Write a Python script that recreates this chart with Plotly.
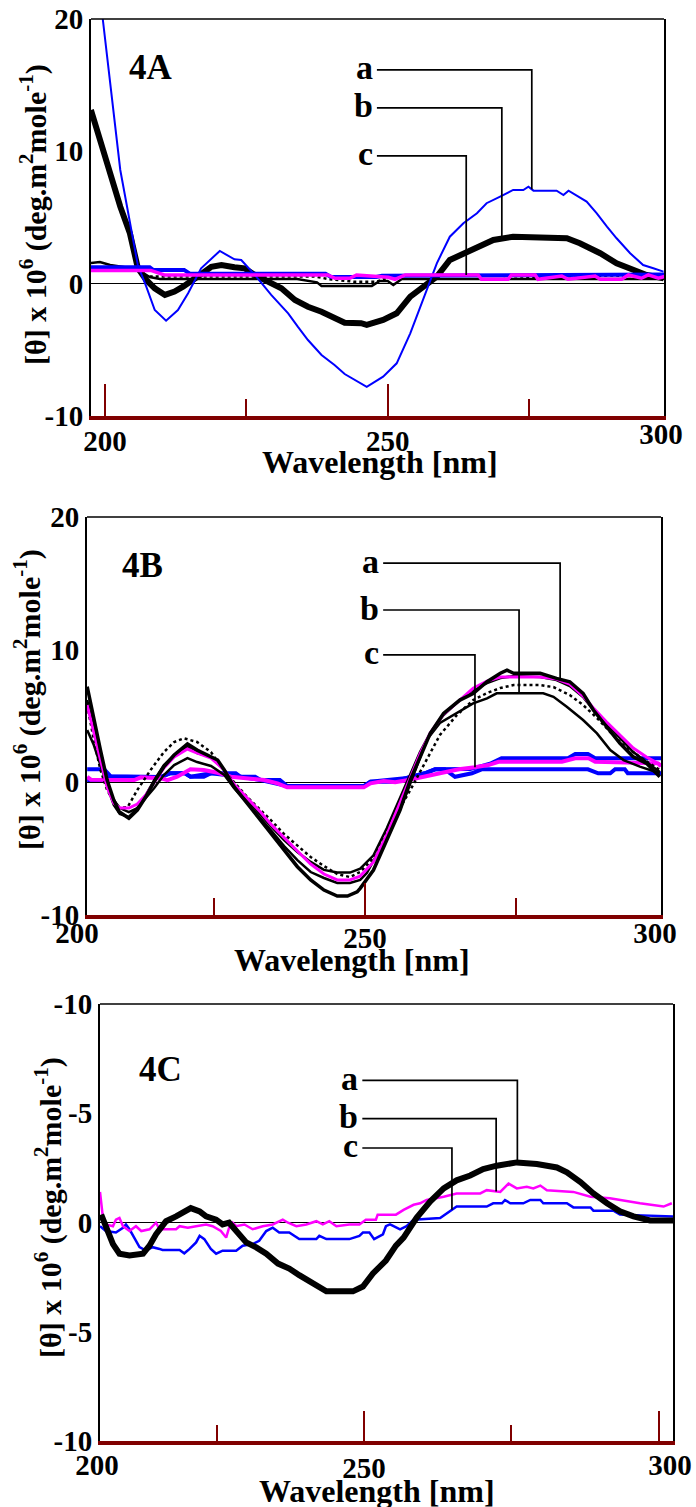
import numpy as np
import plotly.graph_objects as go

# ---------------- 4A ----------------
A_WL_BLUE = [197.5, 199.6, 202.7, 204.7, 205.8, 207.3, 208.8, 210.8, 212.9, 214.7,
             217.0, 220.3, 222.9, 224.1, 226.5, 229.4, 232.4, 234.1, 235.9, 238.3,
             240.6, 242.4, 244.2, 246.3, 249.2, 251.6, 254.0, 256.3, 258.7, 261.0,
             263.4, 265.8, 267.5, 269.9, 272.2, 274.0, 274.9, 275.8, 279.9, 281.1,
             282.0, 285.2, 287.0, 288.8, 290.5, 292.9, 295.2, 297.0, 298.8]
A_TH_BLUE = [28.1, 20.0, 8.59, 4.06, 1.41, -0.23, -1.99, -2.80, -1.99, -0.73,
             1.16, 2.47, 1.84, 1.79, 0.66, -0.85, -2.24, -3.25, -4.26, -5.39,
             -6.15, -6.83, -7.28, -7.79, -7.03, -6.02, -3.75, -1.23, 1.54, 3.55,
             4.57, 5.32, 6.08, 6.58, 7.08, 7.08, 7.33, 7.03, 7.03, 6.70,
             7.03, 6.20, 5.32, 4.31, 3.43, 2.30, 1.41, 1.16, 0.91]

A_WL_BLACK = [197.5, 199.1, 200.9, 202.7, 204.4, 205.8, 207.3, 208.8, 210.6, 212.3,
              213.8, 215.3, 216.8, 218.8, 220.6, 222.9, 224.7, 226.5, 228.8, 231.2,
              233.6, 235.9, 238.3, 240.6, 242.4, 245.3, 246.3, 249.2, 251.6, 254.0,
              256.3, 258.7, 261.0, 263.4, 265.8, 268.7, 272.2, 277.0, 281.7, 284.0,
              287.6, 290.5, 293.5, 295.8, 298.8]
A_TH_BLACK = [13.13, 10.86, 8.09, 5.82, 3.81, 1.19, 0.28, -0.35, -0.85, -0.60,
              -0.23, 0.28, 0.66, 1.28, 1.41, 1.24, 1.16, 0.66, 0.15, -0.35,
              -1.23, -1.74, -2.12, -2.62, -2.95, -2.99, -3.12, -2.74, -2.24, -0.98,
              -0.23, 0.53, 1.79, 2.30, 2.80, 3.30, 3.55, 3.51, 3.43, 3.05,
              2.30, 1.54, 1.04, 0.66, 0.41]

A_WL_BLACKFLAT = [197.5, 199.1, 200.9, 204.4, 206.7, 207.9, 209.7, 234.0, 237.5, 238.3,
                  247.2, 248.6, 250.0, 251.0, 252.5, 298.9]
A_TH_BLACKFLAT = [1.56, 1.64, 1.41, 1.19, 0.81, 0.50, 0.36, 0.36, 0.10, -0.17,
                  -0.17, 0.20, 0.20, -0.10, 0.36, 0.36]

A_WL_DOT = [207.9, 230.0, 237.0, 239.5, 244.0, 248.0, 251.0, 262.0, 270.0, 276.0, 290.0, 298.9]
A_TH_DOT = [0.55, 0.55, 0.55, 0.35, 0.15, 0.15, 0.60, 0.60, 0.60, 0.50, 0.62, 0.50]

A_WL_BLUEFLAT = [197.5, 207.9, 208.5, 214.0, 215.0, 239.0, 240.0, 248.0, 249.0, 299.0]
A_TH_BLUEFLAT = [1.24, 1.24, 1.04, 1.04, 0.75, 0.75, 0.50, 0.50, 0.60, 0.70]

A_WL_MAGFLAT = [197.5, 208.1, 210.5, 239.4, 240.7, 243.3, 244.5, 250.1, 251.3, 253.1,
                266.0, 266.6, 271.3, 271.9, 276.1, 276.6, 280.8, 281.9, 286.7, 287.6,
                291.4, 292.6, 294.9, 296.1, 297.9, 299.0]
A_TH_MAGFLAT = [1.0, 1.0, 0.66, 0.66, 0.41, 0.41, 0.66, 0.48, 0.33, 0.66,
                0.66, 0.33, 0.33, 0.66, 0.66, 0.33, 0.58, 0.33, 0.58, 0.33,
                0.33, 0.66, 0.41, 0.66, 0.41, 0.55]

# ---------------- 4B ----------------
B_WL_1 = [204.0, 205.1, 206.2, 207.3, 208.4, 209.3, 210.9, 212.3, 213.7, 215.1,
          216.7, 218.4, 220.6, 222.2, 224.5, 225.6, 226.7, 228.3, 230.5, 232.7,
          234.4, 236.6, 238.8, 241.0, 243.2, 245.4, 247.1, 248.7, 249.2, 251.4,
          253.6, 255.8, 257.5, 259.1, 260.8, 263.0, 265.7, 267.9, 270.2, 272.4,
          273.5, 274.6, 279.0, 281.7, 283.9, 286.1, 287.8, 290.0, 292.2, 294.4,
          296.6, 298.8]
B_TH_1 = [7.21, 4.70, 2.43, 0.17, -1.33, -2.22, -2.71, -2.09, -1.09, 0.05,
          1.18, 2.06, 2.89, 2.43, 1.93, 1.68, 0.93, -0.33, -1.58, -2.84,
          -3.84, -5.10, -6.36, -7.36, -8.12, -8.57, -8.57, -8.25, -7.99, -6.61,
          -4.35, -2.09, 0.17, 1.93, 3.69, 5.20, 6.20, 6.70, 7.58, 8.22,
          8.46, 8.22, 8.22, 7.84, 7.58, 6.70, 5.45, 4.19, 2.94, 1.93,
          1.43, 0.42]

B_WL_2 = [204.0, 205.1, 206.2, 207.3, 208.4, 209.4, 210.9, 212.3, 213.7, 215.1,
          216.7, 218.4, 220.6, 222.2, 224.5, 226.7, 228.3, 230.5, 232.7, 234.4,
          236.6, 238.8, 241.0, 243.2, 245.4, 247.5, 249.2, 250.3, 253.0, 255.3,
          256.9, 258.6, 260.2, 262.4, 265.2, 267.9, 270.2, 271.8, 279.5, 281.2,
          283.4, 286.1, 288.4, 290.6, 292.8, 295.5, 298.8]
B_TH_2 = [3.94, 2.81, 1.30, -0.20, -1.33, -1.94, -2.24, -1.94, -1.18, -0.43,
          0.55, 1.30, 1.83, 1.53, 1.23, 0.55, -0.43, -1.56, -2.69, -3.60,
          -4.80, -5.86, -6.76, -7.21, -7.59, -7.59, -7.36, -6.83, -4.58, -2.59,
          -0.81, 1.18, 3.19, 4.47, 5.20, 5.95, 6.33, 6.71, 6.71, 6.45,
          5.70, 4.70, 3.69, 2.43, 1.68, 1.18, 0.68]

B_WL_3 = [204.0, 205.1, 206.2, 207.3, 208.4, 209.4, 210.9, 212.3, 213.7, 215.1,
          216.7, 218.4, 220.6, 222.2, 224.5, 226.7, 228.3, 230.5, 232.7, 234.4,
          236.6, 238.8, 241.0, 243.2, 245.4, 247.5, 249.2, 251.4, 253.6, 255.8,
          257.5, 259.1, 260.8, 263.0, 265.7, 267.9, 270.2, 272.4, 274.6, 279.0,
          281.7, 283.9, 286.1, 287.8, 290.0, 292.2, 294.4, 296.6, 298.8]
B_TH_3 = [6.20, 4.09, 1.83, -0.28, -1.71, -2.39, -2.61, -1.94, -0.96, 0.17,
          1.30, 2.06, 2.66, 2.21, 1.91, 0.93, -0.20, -1.33, -2.39, -3.30,
          -4.35, -5.26, -6.00, -6.60, -6.80, -6.80, -6.50, -5.50, -3.46, -1.19,
          0.55, 2.28, 3.72, 5.07, 6.20, 6.96, 7.48, 7.86, 8.01, 7.94,
          7.71, 7.26, 6.43, 5.45, 4.40, 3.34, 2.28, 1.53, 0.78]

B_WL_MAG = [204.0, 205.1, 206.2, 207.3, 208.4, 209.4, 210.9, 212.3, 213.7, 215.1,
            216.7, 218.4, 220.6, 221.7, 224.5, 226.7, 228.3, 230.5, 232.7, 234.4,
            236.6, 238.8, 241.0, 243.2, 245.4, 247.5, 249.2, 251.4, 253.6, 255.8,
            257.5, 259.1, 260.8, 263.0, 265.7, 267.9, 270.2, 272.4, 274.6, 279.0,
            281.7, 283.9, 286.1, 287.8, 290.0, 292.2, 294.4, 296.6, 299.0]
B_TH_MAG = [5.83, 3.79, 1.68, -0.35, -1.56, -1.94, -1.94, -1.64, -0.96, -0.05,
            1.08, 1.91, 2.51, 2.30, 1.83, 0.93, -0.13, -1.18, -2.24, -3.15,
            -4.20, -5.18, -6.16, -6.91, -7.36, -7.36, -7.07, -6.00, -3.97, -1.56,
            0.32, 2.13, 3.72, 5.15, 6.20, 7.10, 7.63, 7.94, 7.94, 7.94,
            7.79, 7.41, 6.50, 5.60, 4.55, 3.57, 2.59, 1.91, 1.30]

B_WL_DOT = [204.0, 205.1, 206.2, 207.3, 209.0, 210.7, 212.3, 214.5, 216.7, 218.4,
            220.0, 222.2, 224.5, 226.0, 228.3, 230.5, 232.7, 234.4, 236.6, 238.8,
            241.0, 243.2, 245.4, 247.5, 249.2, 251.4, 253.6, 255.8, 257.5, 259.1,
            260.2, 262.4, 265.2, 267.9, 270.2, 272.4, 274.6, 279.0, 281.2, 283.9,
            286.1, 288.4, 290.6, 292.8, 295.5, 298.8]
B_TH_DOT = [5.83, 3.19, 0.93, -0.58, -1.94, -1.86, -0.58, 0.93, 2.28, 3.04,
            3.32, 3.04, 2.28, 1.30, 0.02, -1.11, -2.09, -2.84, -3.90, -4.80,
            -5.63, -6.31, -6.91, -7.14, -6.76, -5.70, -3.80, -1.92, -0.58, 0.78,
            1.68, 3.57, 5.07, 6.20, 6.73, 7.11, 7.33, 7.33, 7.18, 6.58,
            5.83, 4.85, 3.79, 2.81, 1.91, 0.93]

B_WL_BLUE_UP = [204.0, 206.8, 207.9, 216.1, 217.7, 220.2, 221.1, 223.3, 224.5, 228.6,
                229.4, 231.8, 232.7, 235.9, 237.1, 249.8, 250.9, 255.0, 256.6, 259.9,
                261.6, 267.4, 270.7, 272.6, 283.6, 284.8, 286.9, 288.1, 299.0]
B_TH_BLUE_UP = [0.98, 0.98, 0.45, 0.40, 0.68, 0.68, 0.42, 0.42, 0.68, 0.68,
                0.42, 0.42, 0.17, 0.17, -0.28, -0.28, 0.05, 0.05, 0.30, 0.68,
                0.98, 1.00, 1.40, 1.81, 1.81, 2.13, 2.13, 1.81, 1.81]

B_WL_BLUE_LOW = [204.0, 206.8, 207.9, 216.1, 217.7, 220.2, 221.1, 224.5, 229.4, 232.7,
                 237.1, 249.8, 250.9, 256.6, 259.9, 261.6, 263.2, 264.9, 267.7, 269.3,
                 286.9, 288.6, 290.6, 291.4, 293.0, 293.5, 299.0]
B_TH_BLUE_LOW = [0.17, 0.17, 0.42, 0.38, 0.68, 0.68, 0.42, 0.68, 0.42, 0.17,
                 -0.28, -0.28, 0.05, 0.30, 0.68, 0.98, 0.98, 0.42, 0.68, 0.98,
                 0.98, 0.68, 0.68, 0.98, 0.98, 0.68, 0.68]

B_WL_MAGFLAT = [204.0, 204.6, 211.8, 212.9, 216.2, 217.3, 218.9, 221.1, 223.3, 225.6,
                227.8, 233.3, 235.5, 237.1, 249.8, 250.9, 253.1, 255.0, 257.2, 259.9,
                262.7, 265.5, 268.2, 270.4, 272.1, 282.6, 284.8, 287.0, 288.1, 298.5,
                299.0]
B_TH_MAGFLAT = [0.42, 0.20, 0.17, 0.38, 0.30, 0.17, 0.42, 0.98, 0.93, 0.72,
                0.42, 0.17, -0.08, -0.38, -0.38, -0.08, 0.10, 0.00, 0.17, 0.42,
                0.68, 0.98, 1.13, 1.30, 1.55, 1.55, 1.81, 1.81, 1.55, 1.43,
                1.20]

# ---------------- 4C ----------------
C_WL_BLACK = [205.4, 206.2, 207.4, 208.5, 210.2, 212.5, 213.6, 214.7, 216.4, 218.1,
              219.8, 220.6, 222.1, 223.2, 224.9, 226.0, 227.1, 228.3, 230.0, 231.7,
              233.4, 235.4, 237.3, 239.0, 241.3, 243.6, 245.8, 248.1, 249.8, 251.5,
              253.7, 254.4, 255.4, 256.7, 258.9, 261.2, 263.5, 265.7, 268.0, 270.2,
              272.5, 275.9, 279.3, 282.7, 284.4, 286.7, 288.9, 291.2, 293.4, 295.7,
              298.5, 302.4]
C_TH_BLACK = [0.36, -0.24, -0.99, -1.43, -1.51, -1.43, -1.06, -0.54, 0.06, 0.28,
              0.51, 0.66, 0.51, 0.28, 0.13, -0.09, -0.01, -0.39, -0.91, -1.14,
              -1.43, -1.88, -2.11, -2.41, -2.78, -3.15, -3.15, -3.15, -2.93, -2.33,
              -1.74, -1.43, -1.06, -0.69, 0.21, 0.96, 1.56, 1.93, 2.15, 2.45,
              2.60, 2.75, 2.68, 2.52, 2.30, 1.85, 1.33, 0.88, 0.51, 0.28,
              0.09, 0.09]

C_WL_MAG = [205.2, 205.7, 206.2, 207.4, 207.9, 208.5, 209.1, 210.2, 211.3, 212.2,
            213.6, 214.7, 215.3, 218.1, 218.7, 220.1, 221.5, 223.2, 224.3, 225.7,
            226.6, 227.1, 227.7, 228.3, 229.7, 231.1, 232.8, 234.5, 236.2, 237.1,
            238.5, 240.2, 241.9, 243.0, 244.1, 245.3, 247.5, 249.2, 250.3, 252.0,
            252.3, 255.4, 256.7, 258.4, 259.5, 260.6, 263.5, 265.7, 269.7, 270.8,
            273.1, 274.5, 275.9, 277.6, 278.7, 279.9, 281.0, 285.5, 288.4, 291.7,
            296.8, 300.8, 302.2]
C_TH_MAG = [1.40, 0.21, -0.09, -0.17, 0.13, 0.21, -0.17, -0.39, -0.17, -0.39,
            -0.31, -0.01, -0.31, -0.31, -0.17, -0.24, -0.17, -0.09, -0.17, -0.39,
            -0.69, -0.24, -0.01, -0.17, -0.09, -0.31, -0.17, -0.09, 0.13, -0.01,
            -0.17, -0.09, 0.06, -0.09, 0.06, -0.17, -0.09, -0.09, 0.13, 0.13,
            0.36, 0.36, 0.58, 0.81, 0.88, 1.03, 1.18, 1.33, 1.33, 1.48,
            1.40, 1.78, 1.56, 1.63, 1.56, 1.69, 1.48, 1.40, 1.18, 1.11,
            0.88, 0.73, 0.88]

C_WL_BLUE = [205.2, 206.2, 207.9, 209.1, 209.6, 210.2, 211.0, 211.9, 213.0, 214.1,
             215.3, 215.8, 218.7, 219.5, 220.4, 221.5, 222.1, 222.9, 224.0, 224.9,
             226.0, 228.3, 229.4, 231.1, 232.2, 233.4, 234.5, 235.6, 237.3, 239.0,
             241.9, 242.4, 243.6, 247.5, 249.2, 249.8, 250.9, 251.7, 253.2, 253.7,
             254.4, 256.1, 257.2, 258.4, 262.9, 264.0, 265.7, 270.8, 271.9, 273.4,
             273.9, 274.8, 277.0, 278.2, 279.9, 280.4, 284.4, 285.5, 288.4, 288.9,
             292.3, 293.4, 301.4, 302.4]
C_TH_BLUE = [-0.17, -0.39, -0.46, -0.24, -0.09, -0.31, -0.69, -1.13, -1.29, -1.13,
             -1.21, -1.26, -1.26, -1.41, -1.21, -0.91, -0.61, -0.76, -1.21, -1.43,
             -1.29, -1.29, -1.06, -0.99, -0.84, -0.39, -0.24, -0.46, -0.46, -0.76,
             -0.76, -0.61, -0.76, -0.76, -0.61, -0.46, -0.46, -0.76, -0.54, -0.17,
             -0.09, -0.31, -0.17, 0.13, 0.21, 0.43, 0.73, 0.73, 0.88, 0.88,
             1.03, 0.88, 0.88, 1.03, 1.03, 0.88, 0.88, 0.69, 0.69, 0.54,
             0.54, 0.36, 0.28, 0.28]

# Tick labels
AB_Y_TICK_TEXT = ["-10", "0", "10", "20"]
C_Y_TICK_TEXT = ["-10", "-5", "0", "-5", "-10"]

# ------------------------------------------------------------------
W, H = 696, 1507
SERIF = "Liberation Serif"
MAROON = "#800000"
BLUE = "#0000ff"
MAGENTA = "#ff00ff"


def fx(p):
    return p / W


def fy(p):
    return 1 - p / H


def bold(size):
    return dict(family=SERIF, size=size, color="black", weight="bold")


fig = go.Figure()

# frame boxes in pixels: left, top, right, bottom
panels = {
    "A": dict(ax="", box=(91, 19, 664, 416), xr=[197.52, 298.89], yr=[-10, 20],
              ytv=[-10, 0, 10, 20], ytt=AB_Y_TICK_TEXT,
              xtv=[200, 250], xtt=["200", "250"], minor=[225, 275],
              majlen=32, minlen=17, shift=-4,
              lab_dom=(106, 661), lab_tv=[300], lab_tt=["300"], lab_shift=-2),
    "B": dict(ax="2", box=(87, 517, 661, 915), xr=[203.97, 299.0], yr=[-10, 20],
              ytv=[-10, 0, 10, 20], ytt=AB_Y_TICK_TEXT,
              xtv=[250], xtt=["250"], minor=[225, 275],
              majlen=32, minlen=17, shift=-6,
              lab_dom=(77, 655), lab_tv=[200, 300], lab_tt=["200", "300"], lab_shift=-2),
    "C": dict(ax="3", box=(100, 1004, 673, 1441), xr=[205.2, 302.4], yr=[-10, 10],
              ytv=[-10, -5, 0, 5, 10], ytt=C_Y_TICK_TEXT,
              xtv=[250, 300], xtt=["250", ""], minor=[225, 275],
              majlen=30, minlen=16, shift=-2,
              lab_dom=(97, 670), lab_tv=[200, 300], lab_tt=["200", "300"], lab_shift=4),
}
label_axis_id = {"A": "4", "B": "5", "C": "6"}

layout_axes = {}
shapes = []
for key, p in panels.items():
    a = p["ax"]
    l, t, r, b = p["box"]
    xid = "x" + a
    yid = "y" + a
    layout_axes["xaxis" + a] = dict(
        domain=[fx(l), fx(r)], range=p["xr"], anchor=yid, automargin=False,
        showline=True, linecolor=MAROON, linewidth=4,
        ticks="inside", ticklen=p["majlen"], tickwidth=2, tickcolor=MAROON,
        tickmode="array", tickvals=p["xtv"], ticktext=p["xtt"],
        tickfont=bold(29), ticklabelstandoff=p["shift"],
        showgrid=False, zeroline=False,
        minor=dict(ticks="inside", ticklen=p["minlen"], tickwidth=2,
                   tickcolor=MAROON, tickvals=p["minor"], showgrid=False),
    )
    layout_axes["yaxis" + a] = dict(
        domain=[fy(b), fy(t)], range=p["yr"], anchor=xid, automargin=False,
        showline=True, linecolor="black", linewidth=2, mirror=True,
        ticks="", tickmode="array", tickvals=p["ytv"], ticktext=p["ytt"],
        tickfont=bold(29), showgrid=False,
        zeroline=True, zerolinecolor="black", zerolinewidth=1,
    )

    # separate axis carrying the end labels of the wavelength scale
    n = label_axis_id[key]
    layout_axes["xaxis" + n] = dict(
        domain=[fx(p["lab_dom"][0]), fx(p["lab_dom"][1])], range=[200, 300],
        anchor="y" + n, automargin=False, showline=False, ticks="",
        tickmode="array", tickvals=p["lab_tv"], ticktext=p["lab_tt"],
        tickfont=bold(29), ticklabelstandoff=p["lab_shift"],
        showgrid=False, zeroline=False, fixedrange=True,
    )
    layout_axes["yaxis" + n] = dict(
        domain=[fy(b), fy(b) + 0.01], range=[0, 1], showticklabels=False,
        showline=False, ticks="", anchor="x" + n, automargin=False,
        showgrid=False, zeroline=False, fixedrange=True,
    )
    # empty trace so the label axis gets its own subplot
    fig.add_trace(go.Scatter(x=[None], y=[None], xaxis="x" + n, yaxis="y" + n,
                             mode="lines", hoverinfo="skip", showlegend=False))
    # top border of the frame
    shapes.append(dict(type="line", xref=xid + " domain", yref=yid + " domain",
                       x0=0, x1=1, y0=1, y1=1, line=dict(color="black", width=1.5)))


def add(wl, th, ax, color, width, dash="solid"):
    fig.add_trace(go.Scatter(
        x=wl, y=th, mode="lines", xaxis="x" + ax, yaxis="y" + ax,
        line=dict(color=color, width=width, dash=dash),
        hoverinfo="skip", showlegend=False,
    ))


# 4A
add(A_WL_BLACK, A_TH_BLACK, "", "black", 6)
add(A_WL_BLACKFLAT, A_TH_BLACKFLAT, "", "black", 2.5)
add(A_WL_DOT, A_TH_DOT, "", "black", 2.5, "dot")
add(A_WL_BLUEFLAT, A_TH_BLUEFLAT, "", BLUE, 4)
add(A_WL_BLUE, A_TH_BLUE, "", BLUE, 2)
add(A_WL_MAGFLAT, A_TH_MAGFLAT, "", MAGENTA, 3.5)

# 4B
add(B_WL_BLUE_LOW, B_TH_BLUE_LOW, "2", BLUE, 4)
add(B_WL_BLUE_UP, B_TH_BLUE_UP, "2", BLUE, 4)
add(B_WL_MAGFLAT, B_TH_MAGFLAT, "2", MAGENTA, 4)
add(B_WL_DOT, B_TH_DOT, "2", "black", 2.5, "dot")
add(B_WL_2, B_TH_2, "2", "black", 2.5)
add(B_WL_3, B_TH_3, "2", "black", 2.5)
add(B_WL_MAG, B_TH_MAG, "2", MAGENTA, 3)
add(B_WL_1, B_TH_1, "2", "black", 3.5)

# 4C
add(C_WL_BLUE, C_TH_BLUE, "3", BLUE, 2.5)
add(C_WL_MAG, C_TH_MAG, "3", MAGENTA, 2.5)
add(C_WL_BLACK, C_TH_BLACK, "3", "black", 6)

annotations = []

# callouts: (letter, row value, wavelength where the leader drops, target curve)
callouts = {
    "": (248.1, [("a", 16.15, 275.5, (A_WL_BLUE, A_TH_BLUE)),
                 ("b", 13.28, 270.2, (A_WL_BLACK, A_TH_BLACK)),
                 ("c", 9.65, 263.9, (A_WL_MAGFLAT, A_TH_MAGFLAT))]),
    "2": (253.0, [("a", 16.53, 282.3, (B_WL_1, B_TH_1)),
                  ("b", 12.99, 275.5, (B_WL_2, B_TH_2)),
                  ("c", 9.60, 268.2, (B_WL_MAGFLAT, B_TH_MAGFLAT))]),
    "3": (249.7, [("a", 6.50, 276.0, (C_WL_BLACK, C_TH_BLACK)),
                  ("b", 4.75, 272.4, (C_WL_MAG, C_TH_MAG)),
                  ("c", 3.41, 264.9, (C_WL_BLUE, C_TH_BLUE))]),
}
for ax, (x0, items) in callouts.items():
    for letter, row, xd, (wl, th) in items:
        yend = float(np.interp(xd, wl, th))
        shapes.append(dict(type="path", xref="x" + ax, yref="y" + ax,
                           path=f"M {x0},{row} L {xd},{row} L {xd},{yend}",
                           line=dict(color="black", width=1.7)))
        annotations.append(dict(x=x0, y=row, xref="x" + ax, yref="y" + ax,
                                text=letter, showarrow=False, xanchor="right",
                                yanchor="middle", xshift=-2, yshift=2, font=bold(34)))

# panel tags
for txt, (px, py) in {"4A": (151, 67), "4B": (142, 565), "4C": (160, 1069)}.items():
    annotations.append(dict(x=fx(px), y=fy(py), xref="paper", yref="paper", text=txt,
                            showarrow=False, xanchor="center", yanchor="middle",
                            font=bold(35)))

# axis titles
ytitle = "[θ] x 10<sup>6</sup> (deg.m<sup>2</sup>mole<sup>-1</sup>)"
for (px, py) in [(380, 462), (352, 960), (377, 1491)]:
    annotations.append(dict(x=fx(px), y=fy(py), xref="paper", yref="paper",
                            text="Wavelength [nm]", showarrow=False,
                            xanchor="center", yanchor="middle", font=bold(32)))
for (px, py) in [(33, 215), (27, 700), (48, 1208)]:
    annotations.append(dict(x=fx(px), y=fy(py), xref="paper", yref="paper",
                            text=ytitle, textangle=-90, showarrow=False,
                            xanchor="center", yanchor="middle", font=bold(30)))

fig.update_layout(
    width=W, height=H,
    margin=dict(l=0, r=0, t=0, b=0, pad=0, autoexpand=False),
    paper_bgcolor="white", plot_bgcolor="rgba(0,0,0,0)",
    showlegend=False, shapes=shapes, annotations=annotations,
    **layout_axes,
)

fig.write_html("out.html")
